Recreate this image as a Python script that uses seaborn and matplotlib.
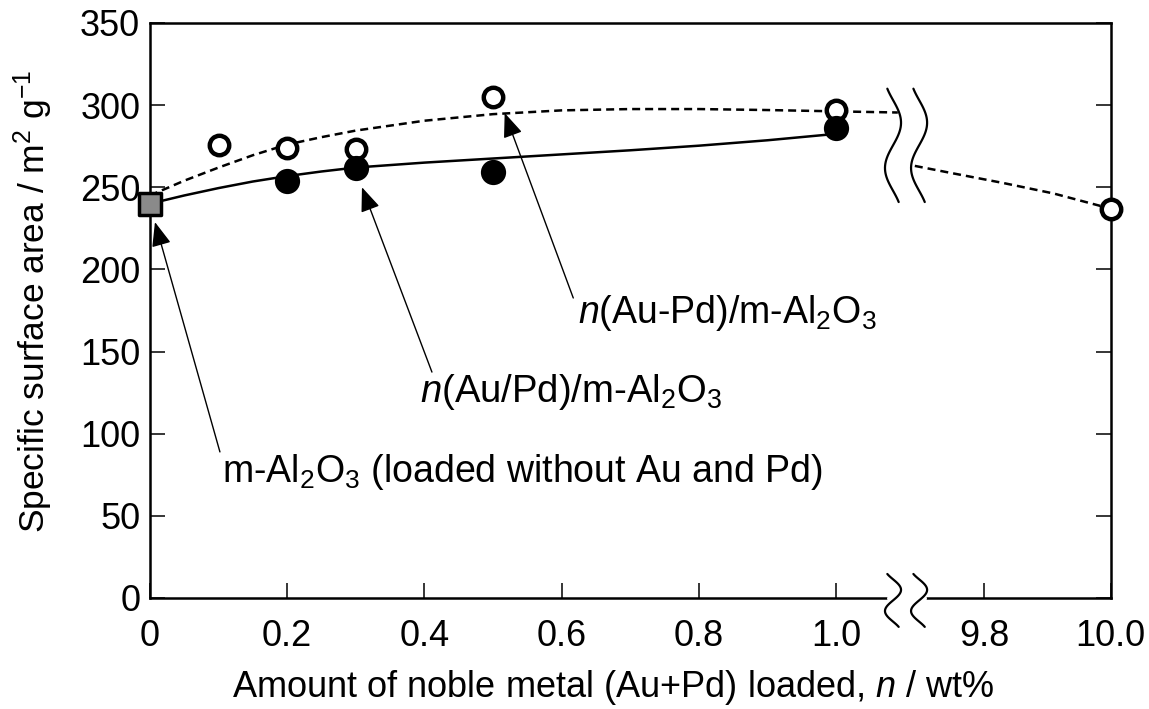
import numpy as np
import pandas as pd
import matplotlib
matplotlib.use('Agg')
import matplotlib.pyplot as plt
import seaborn as sns

# values
x_bare = [0.0]                       # m-Al2O3 without metal
y_bare = [240]

x_sep = [0.2, 0.3, 0.5, 1.0]         # n(Au/Pd)/m-Al2O3 (filled)
y_sep = [254, 262, 259, 286]

x_alloy = [0.1, 0.2, 0.3, 0.5, 1.0, 10.0]   # n(Au-Pd)/m-Al2O3 (open)
y_alloy = [276, 274, 273, 305, 297, 237]

# guide curves drawn by hand in the original
x_solid = [0, 0.05, 0.1, 0.15, 0.2, 0.25, 0.3, 0.4, 0.5, 0.6, 0.7, 0.8, 0.9, 1.0]
y_solid = [240, 245, 249.5, 253.5, 256.8, 259.6, 262, 265, 267.5, 270, 272.5, 275.3, 278.6, 282.5]

x_dash_a = [0, 0.05, 0.1, 0.15, 0.2, 0.25, 0.3, 0.4, 0.5, 0.6, 0.7, 0.8, 0.9, 1.0, 1.09]
y_dash_a = [245, 254, 262, 269.5, 276, 280.5, 284.5, 290.5, 294.5, 296.8, 297.6, 297.6, 297, 296.2, 295.5]
x_dash_b = [9.69, 9.75, 9.83, 9.91, 10.0]
y_dash_b = [263, 258.5, 252.6, 246.2, 237]

xtick_vals = [0, 0.2, 0.4, 0.6, 0.8, 1.0, 9.8, 10.0]
xtick_labels = ['0', '0.2', '0.4', '0.6', '0.8', '1.0', '9.8', '10.0']
ytick_vals = [0, 50, 100, 150, 200, 250, 300, 350]


def brk(x):
    # broken axis: 0-1.1 kept as is, 9.7-10 squeezed next to it
    x = np.asarray(x, dtype=float)
    return np.where(x < 5, x, 1.216 + (x - 9.8) * 0.92)


sns.set_theme(style='ticks')
plt.rcParams['font.family'] = ['Liberation Sans', 'DejaVu Sans']
plt.rcParams['mathtext.fontset'] = 'custom'
plt.rcParams['mathtext.rm'] = 'Liberation Sans'
plt.rcParams['mathtext.it'] = 'Liberation Sans:italic'
plt.rcParams['text.color'] = 'black'
plt.rcParams['axes.labelcolor'] = 'black'

fig = plt.figure(figsize=(11.49, 7.09), dpi=100)
ax = fig.add_axes([0.1305, 0.1566, 0.836, 0.811])

lw = 1.8
sns.lineplot(x=brk(x_solid), y=y_solid, color='black', lw=lw, ax=ax, zorder=2)
for xs, ys in [(x_dash_a, y_dash_a), (x_dash_b, y_dash_b)]:
    sns.lineplot(x=brk(xs), y=ys, color='black', lw=lw, ax=ax, zorder=2,
                 dashes=False, linestyle=(0, (3.2, 2.0)))

sns.scatterplot(x=brk(x_alloy), y=y_alloy, marker='o', s=196, color='white',
                edgecolor='black', linewidth=3.2, ax=ax, zorder=3, clip_on=False)
sns.scatterplot(x=brk(x_sep), y=y_sep, marker='o', s=330, color='black',
                edgecolor='black', linewidth=0, ax=ax, zorder=4)
sns.scatterplot(x=brk(x_bare), y=y_bare, marker='s', s=262, color='#8a8a8a',
                edgecolor='black', linewidth=2.5, ax=ax, zorder=5, clip_on=False)

ax.set_xlim(0, 1.4)
ax.set_ylim(0, 350)
ax.set_xticks(brk(xtick_vals))
ax.set_xticklabels(xtick_labels)
ax.set_yticks(ytick_vals)
ax.tick_params(direction='in', length=11, width=1.1, labelsize=26,
               right=True, top=False, colors='black')
ax.tick_params(axis='x', pad=15)
ax.tick_params(axis='y', pad=7)
for s in ax.spines.values():
    s.set_linewidth(1.8)
    s.set_color('black')

ax.set_xlabel('Amount of noble metal (Au+Pd) loaded, $n$ / wt%', fontsize=26, labelpad=10)
ax.set_ylabel('Specific surface area / m$^2$ g$^{-1}$', fontsize=25.5, labelpad=18)
ax.xaxis.label.set_x(0.482)
ax.yaxis.label.set_y(0.515)

# axis break symbols
t = np.linspace(0, 1, 60)
wave = np.cos(2 * np.pi * (t - 0.3) / 0.8) * 0.0117
ax.plot([1.079, 1.127], [0, 0], color='white', lw=5, clip_on=False, zorder=6)
for c in [1.083, 1.121]:
    ax.plot(c + wave, 310 - 69 * t, color='black', lw=1.6, zorder=6)
    ax.plot(c + wave, 14.6 - 32.2 * t, color='black', lw=1.6, zorder=7, clip_on=False)

# annotations
arrow = dict(arrowstyle='-|>,head_length=0.75,head_width=0.3', color='black',
             lw=1.0, shrinkA=0, shrinkB=0, mutation_scale=20)
ax.annotate('', xy=(0.0073, 228.8), xytext=(0.102, 88.9), arrowprops=arrow, zorder=8)
ax.annotate('', xy=(0.309, 250), xytext=(0.411, 137.5), arrowprops=arrow, zorder=8)
ax.annotate('', xy=(0.517, 295.2), xytext=(0.617, 182.6), arrowprops=arrow, zorder=8)

ax.text(0.105, 70.6, 'm-Al$_2$O$_3$ (loaded without Au and Pd)', fontsize=27, va='baseline')
ax.text(0.394, 119.3, '$n$(Au/Pd)/m-Al$_2$O$_3$', fontsize=27.5, va='baseline')
ax.text(0.624, 167.4, '$n$(Au-Pd)/m-Al$_2$O$_3$', fontsize=27, va='baseline')

fig.savefig('out.png', dpi=100, facecolor='white')
